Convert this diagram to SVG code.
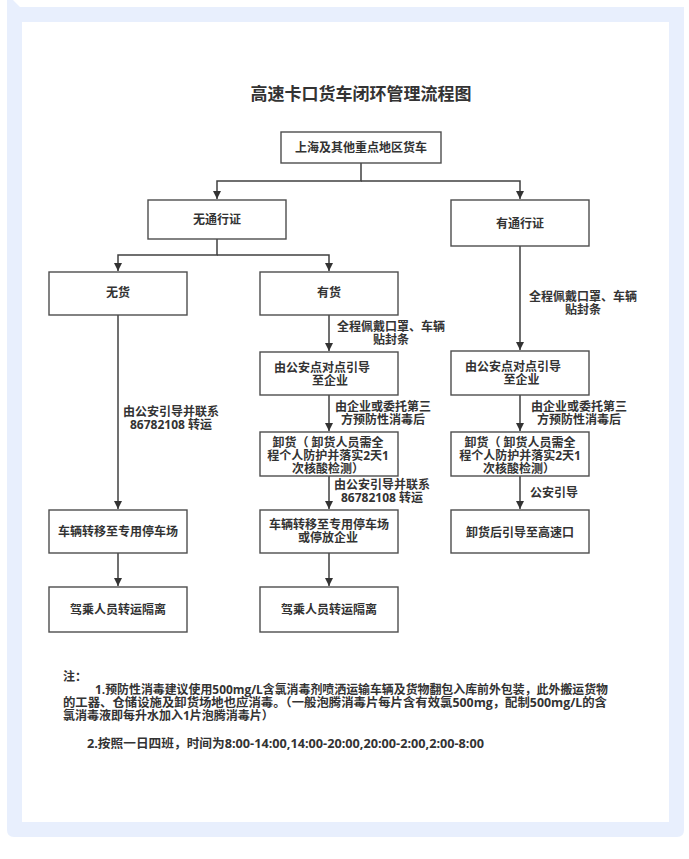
<svg xmlns="http://www.w3.org/2000/svg" width="689" height="859" viewBox="0 0 689 859">
<style>
.bg{fill:#e8effd}
.box{fill:#ffffff;stroke:#4d4d4d;stroke-width:1.4}
.t{font-family:"Open Sans","Noto Sans CJK SC",sans-serif;font-weight:700;font-size:12px;fill:#333333;text-anchor:middle}
.n{font-family:"Open Sans","Noto Sans CJK SC",sans-serif;font-weight:700;font-size:12px;fill:#333333}
.title{font-family:"Noto Sans CJK SC",sans-serif;font-weight:700;font-size:17px;fill:#333333;text-anchor:middle}
.c{fill:none;stroke:#404040;stroke-width:1.5}
</style>
<defs>
<marker id="ah" markerUnits="userSpaceOnUse" markerWidth="9" markerHeight="9" refX="8" refY="4" orient="auto">
<path d="M0,0 L8,4 L0,8 z" fill="#333333"/>
</marker>
</defs>
<g id="frame">
<path class="bg" d="M7,0 L13,0 L20,7 L684,7 L684,830 Q684,837 677,837 L14,837 Q7,837 7,830 Z"/>
<rect x="22" y="22" width="647" height="800" fill="#ffffff"/>
</g>
<text class="title" x="361" y="100">高速卡口货车闭环管理流程图</text>
<g id="connectors">
<path class="c" d="M361,163 V181 H217 V199" marker-end="url(#ah)"/>
<path class="c" d="M361,181 H520 V199" marker-end="url(#ah)"/>
<path class="c" d="M217,239 V255 H118 V271" marker-end="url(#ah)"/>
<path class="c" d="M217,255 H329 V271" marker-end="url(#ah)"/>
<path class="c" d="M118,315 V509" marker-end="url(#ah)"/>
<path class="c" d="M118,553 V586" marker-end="url(#ah)"/>
<path class="c" d="M329,315 V351" marker-end="url(#ah)"/>
<path class="c" d="M329,395 V431" marker-end="url(#ah)"/>
<path class="c" d="M329,476 V509" marker-end="url(#ah)"/>
<path class="c" d="M329,553 V586" marker-end="url(#ah)"/>
<path class="c" d="M520,246 V350" marker-end="url(#ah)"/>
<path class="c" d="M520,395 V431" marker-end="url(#ah)"/>
<path class="c" d="M520,476 V509" marker-end="url(#ah)"/>
</g>
<g id="connector-labels">
<text class="t"><tspan x="171" y="416">由公安引导并联系</tspan><tspan x="171" y="429">86782108 转运</tspan></text>
<text class="t"><tspan x="391" y="331">全程佩戴口罩、车辆</tspan><tspan x="391" y="344">贴封条</tspan></text>
<text class="t"><tspan x="383" y="411">由企业或委托第三</tspan><tspan x="383" y="424">方预防性消毒后</tspan></text>
<text class="t"><tspan x="382" y="489">由公安引导并联系</tspan><tspan x="382" y="502">86782108 转运</tspan></text>
<text class="t"><tspan x="583" y="301">全程佩戴口罩、车辆</tspan><tspan x="583" y="314">贴封条</tspan></text>
<text class="t"><tspan x="579" y="411">由企业或委托第三</tspan><tspan x="579" y="424">方预防性消毒后</tspan></text>
<text class="n" x="530" y="497">公安引导</text>
</g>
<g id="n0"><rect class="box" x="281" y="132" width="160" height="31"/><text class="t" x="361" y="152">上海及其他重点地区货车</text></g>
<g id="n1"><rect class="box" x="148" y="200" width="138" height="39"/><text class="t" x="217" y="224">无通行证</text></g>
<g id="n2"><rect class="box" x="451" y="200" width="138" height="46"/><text class="t" x="520" y="228">有通行证</text></g>
<g id="n3"><rect class="box" x="49" y="272" width="138" height="43"/><text class="t" x="118" y="297">无货</text></g>
<g id="n4"><rect class="box" x="260" y="272" width="138" height="43"/><text class="t" x="329" y="297">有货</text></g>
<g id="n5"><rect class="box" x="260" y="352" width="138" height="43"/><text class="t"><tspan x="322" y="372">由公安点对点引导</tspan><tspan x="330" y="385">至企业</tspan></text></g>
<g id="n6"><rect class="box" x="260" y="432" width="138" height="44"/><text class="t"><tspan x="328" y="446.5">卸货（ 卸货人员需全</tspan><tspan x="328" y="459.5">程个人防护并落实2天1</tspan><tspan x="328" y="472.5">次核酸检测）</tspan></text></g>
<g id="n7"><rect class="box" x="260" y="510" width="138" height="43"/><text class="t"><tspan x="329" y="529">车辆转移至专用停车场</tspan><tspan x="328" y="542">或停放企业</tspan></text></g>
<g id="n8"><rect class="box" x="260" y="587" width="138" height="45"/><text class="t" x="329" y="614">驾乘人员转运隔离</text></g>
<g id="n9"><rect class="box" x="49" y="510" width="138" height="43"/><text class="t" x="118" y="536">车辆转移至专用停车场</text></g>
<g id="n10"><rect class="box" x="49" y="587" width="138" height="45"/><text class="t" x="118" y="614">驾乘人员转运隔离</text></g>
<g id="n11"><rect class="box" x="451" y="351" width="138" height="44"/><text class="t"><tspan x="513" y="371">由公安点对点引导</tspan><tspan x="521.5" y="384">至企业</tspan></text></g>
<g id="n12"><rect class="box" x="451" y="432" width="138" height="44"/><text class="t"><tspan x="520" y="446.5">卸货（ 卸货人员需全</tspan><tspan x="520" y="459.5">程个人防护并落实2天1</tspan><tspan x="519" y="472.5">次核酸检测）</tspan></text></g>
<g id="n13"><rect class="box" x="451" y="510" width="138" height="43"/><text class="t" x="520" y="536.5">卸货后引导至高速口</text></g>
<g id="notes">
<text class="n"><tspan x="63" y="681">注：</tspan><tspan x="95" y="694" textLength="513" lengthAdjust="spacingAndGlyphs">1.预防性消毒建议使用500mg/L含氯消毒剂喷洒运输车辆及货物翻包入库前外包装，此外搬运货物</tspan><tspan x="63" y="707" textLength="544" lengthAdjust="spacingAndGlyphs">的工器、仓储设施及卸货场地也应消毒。（一般泡腾消毒片每片含有效氯500mg，配制500mg/L的含</tspan><tspan x="63" y="720">氯消毒液即每升水加入1片泡腾消毒片）</tspan></text>
<text class="n" x="87" y="748" textLength="397" lengthAdjust="spacingAndGlyphs">2.按照一日四班，时间为8:00-14:00,14:00-20:00,20:00-2:00,2:00-8:00</text>
</g>
</svg>
